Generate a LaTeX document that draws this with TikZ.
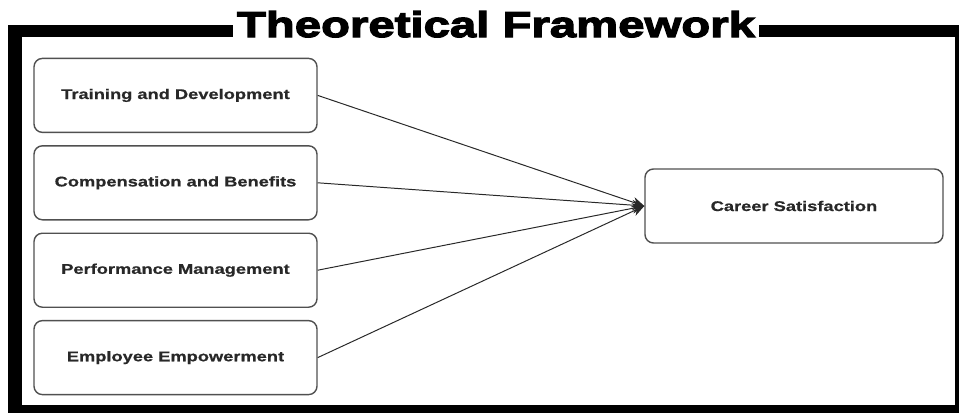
\documentclass[tikz,border=0pt]{standalone}
\usepackage{fontspec}
\usepackage{xcolor}
\definecolor{fwline}{RGB}{80,80,80}
\definecolor{fwtext}{RGB}{40,40,40}
\definecolor{fwarrow}{RGB}{40,40,40}
\newfontfamily\labelfont[FakeStretch=1.3,FakeBold=0.6]{Liberation Sans Bold}
\newfontfamily\titlefont[FakeStretch=1.32,FakeBold=3.5]{Liberation Sans Bold}
\usepackage{tikz}
\usetikzlibrary{arrows.meta, positioning}

\tikzset{
  factor/.style={draw=fwline, line width=1pt, rounded corners=6pt, fill=white,
                 minimum width=7.075cm, minimum height=1.85cm,
                 font=\labelfont\fontsize{10}{12}\selectfont, text=fwtext},
  link/.style={fwarrow, line width=0.7pt, -{Stealth[length=3mm, width=2.6mm]}}
}

\begin{document}
\begin{tikzpicture}

\useasboundingbox (0,0) rectangle (23.975,10.325);

% --- Frame ---
\fill[black] (0.2,0) rectangle (23.975,9.7);
\fill[white] (0.55,0.2) rectangle (23.875,9.4);
\node[fill=white, inner xsep=3pt, inner ysep=3pt, font=\titlefont\fontsize{25.5}{28}\selectfont]
     (title) at (12.4,9.72) {Theoretical Framework};

% --- Independent variables ---
\node[factor] (train) at (4.3875,7.94) {Training and Development};
\node[factor, below=0.3cm of train] (comp) {Compensation and Benefits};
\node[factor, below=0.3cm of comp] (perf) {Performance Management};
\node[factor, below=0.3cm of perf] (empow) {Employee Empowerment};

% --- Dependent variable ---
\node[factor, minimum width=7.45cm] (career) at (19.85,5.175) {Career Satisfaction};

% Links
\draw[link] (train.east) -- (career.west);
\draw[link] (comp.east) -- (career.west);
\draw[link] (perf.east) -- (career.west);
\draw[link] (empow.east) -- (career.west);

\end{tikzpicture}
\end{document}
